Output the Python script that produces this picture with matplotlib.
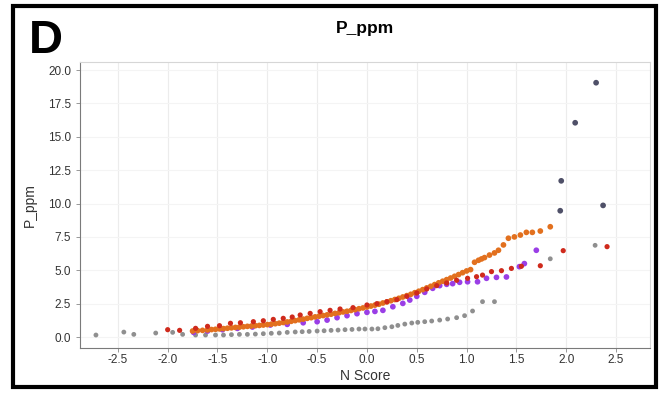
import matplotlib.pyplot as plt
from matplotlib.patches import Rectangle

plt.rcParams["font.family"] = ["Liberation Sans", "DejaVu Sans"]

# Normal probability plot data (N score, P_ppm)
gray_x = [-2.72, -2.44, -2.34, -2.12, -1.95, -1.85, -1.72, -1.62, -1.52, -1.44, -1.36,
          -1.28, -1.2, -1.12, -1.04, -0.96, -0.88, -0.8, -0.72, -0.65, -0.58, -0.5,
          -0.43, -0.36, -0.29, -0.22, -0.15, -0.08, -0.02, 0.05, 0.11, 0.18, 0.25,
          0.31, 0.38, 0.45, 0.51, 0.58, 0.65, 0.73, 0.81, 0.9, 0.98, 1.06, 1.16,
          1.28, 1.84, 2.29]
gray_y = [0.15, 0.37, 0.2, 0.3, 0.35, 0.2, 0.15, 0.15, 0.15, 0.15, 0.18,
          0.2, 0.2, 0.22, 0.25, 0.28, 0.3, 0.35, 0.38, 0.4, 0.42, 0.45,
          0.47, 0.5, 0.52, 0.55, 0.57, 0.6, 0.6, 0.6, 0.62, 0.7, 0.77,
          0.87, 0.97, 1.05, 1.1, 1.15, 1.2, 1.27, 1.35, 1.45, 1.6, 1.95, 2.65,
          2.65, 5.86, 6.87]

purple_x = [-1.74, -1.6, -1.45, -1.3, -1.15, -0.97, -0.8, -0.64, -0.5, -0.4, -0.3,
            -0.2, -0.1, 0.0, 0.08, 0.16, 0.26, 0.36, 0.43, 0.5, 0.58, 0.66, 0.73,
            0.8, 0.86, 0.93, 1.01, 1.11, 1.2, 1.3, 1.4, 1.53, 1.58, 1.7]
purple_y = [0.35, 0.45, 0.55, 0.65, 0.75, 0.9, 0.95, 1.07, 1.15, 1.27, 1.45,
            1.6, 1.75, 1.85, 1.92, 2.0, 2.27, 2.52, 2.77, 3.05, 3.35, 3.65, 3.85,
            3.95, 4.0, 4.1, 4.14, 4.14, 4.4, 4.47, 4.5, 5.27, 5.5, 6.5]

orange_x = [-1.75, -1.7, -1.65, -1.6, -1.56, -1.52, -1.48, -1.44, -1.4, -1.36,
            -1.32, -1.28, -1.24, -1.2, -1.16, -1.12, -1.08, -1.04, -1.0, -0.96,
            -0.92, -0.88, -0.84, -0.8, -0.76, -0.72, -0.68, -0.64, -0.6, -0.56,
            -0.52, -0.48, -0.44, -0.4, -0.36, -0.32, -0.28, -0.24, -0.2, -0.16,
            -0.12, -0.08, -0.04, 0.0, 0.04, 0.08, 0.12, 0.16, 0.2, 0.24,
            0.28, 0.32, 0.36, 0.4, 0.44, 0.48, 0.52, 0.56, 0.6, 0.64,
            0.68, 0.72, 0.76, 0.8, 0.84, 0.88, 0.92, 0.96, 1.0, 1.04,
            1.08, 1.12, 1.15, 1.18, 1.23, 1.28, 1.32, 1.37, 1.42, 1.48,
            1.54, 1.6, 1.66, 1.74, 1.84]
orange_y = [0.45, 0.48, 0.5, 0.53, 0.56, 0.58, 0.61, 0.63, 0.66, 0.69,
            0.72, 0.74, 0.77, 0.8, 0.82, 0.85, 0.87, 0.9, 0.93, 0.96,
            1.0, 1.04, 1.09, 1.13, 1.18, 1.23, 1.29, 1.34, 1.4, 1.45,
            1.51, 1.56, 1.61, 1.66, 1.71, 1.77, 1.82, 1.88, 1.93, 1.99,
            2.05, 2.12, 2.18, 2.25, 2.32, 2.39, 2.46, 2.55, 2.63, 2.72,
            2.81, 2.9, 3.0, 3.1, 3.2, 3.32, 3.43, 3.55, 3.68, 3.8,
            3.93, 4.06, 4.18, 4.3, 4.42, 4.55, 4.68, 4.82, 4.95, 5.05,
            5.6, 5.75, 5.85, 5.95, 6.14, 6.3, 6.5, 6.9, 7.4, 7.5,
            7.64, 7.84, 7.84, 7.94, 8.26]

red_x = [-2.0, -1.88, -1.72, -1.6, -1.48, -1.37, -1.27, -1.14, -1.04, -0.94, -0.84,
         -0.75, -0.67, -0.57, -0.47, -0.37, -0.27, -0.14, 0.0, 0.1, 0.2, 0.3,
         0.4, 0.5, 0.6, 0.7, 0.8, 0.9, 1.01, 1.1, 1.16, 1.25, 1.35, 1.45, 1.55,
         1.74, 1.97, 2.41]
red_y = [0.55, 0.5, 0.65, 0.8, 0.85, 1.03, 1.07, 1.15, 1.22, 1.32, 1.4,
         1.5, 1.65, 1.77, 1.9, 2.0, 2.1, 2.2, 2.4, 2.5, 2.65, 2.8,
         3.05, 3.3, 3.6, 3.85, 4.05, 4.25, 4.4, 4.52, 4.64, 4.9, 4.97, 5.14, 5.3,
         5.34, 6.47, 6.77]

dark_x = [1.94, 1.95, 2.09, 2.3, 2.37, 2.69]
dark_y = [9.46, 11.7, 16.05, 19.05, 9.86, 21.0]

x_ticks = [-2.5, -2.0, -1.5, -1.0, -0.5, 0.0, 0.5, 1.0, 1.5, 2.0, 2.5]
y_ticks = [0.0, 2.5, 5.0, 7.5, 10.0, 12.5, 15.0, 17.5, 20.0]

fig = plt.figure(figsize=(6.65, 3.94), dpi=100)
ax = fig.add_axes([0.1203, 0.1168, 0.857, 0.7258])

# grid
for xv in x_ticks:
    ax.axvline(xv, color="#ececec", linewidth=0.8, zorder=0)
for yv in y_ticks:
    ax.axhline(yv, color="#f4f4f4", linewidth=0.8, zorder=0)

ms = 17
ax.scatter(gray_x, gray_y, s=ms - 5, color="#8f8f8f", edgecolors="none", zorder=2)
ax.scatter(purple_x, purple_y, s=ms, color="#9a3ee6", edgecolors="none", zorder=3)
ax.scatter(orange_x, orange_y, s=ms, color="#e2701e", edgecolors="none", zorder=4)
ax.scatter(red_x, red_y, s=ms - 3, color="#cf2a1c", edgecolors="none", zorder=5)
ax.scatter(dark_x, dark_y, s=ms, color="#4f5068", edgecolors="none", zorder=5)

ax.set_xlim(-2.88, 2.84)
ax.set_ylim(-0.82, 20.6)
ax.set_xticks(x_ticks)
ax.set_yticks(y_ticks)
ax.set_xticklabels([f"{v:.1f}" for v in x_ticks])
ax.set_yticklabels([f"{v:.1f}" for v in y_ticks])
ax.tick_params(labelsize=8.5, labelcolor="#333333", color="#888888", length=3, width=0.6)
ax.tick_params(axis="x", pad=1.5)

for side in ["top", "right"]:
    ax.spines[side].set_color("#d6d6d6")
for side in ["left", "bottom"]:
    ax.spines[side].set_color("#7a7a7a")
for sp in ax.spines.values():
    sp.set_linewidth(0.8)

ax.set_xlabel("N Score", fontsize=10, color="#333333", labelpad=2)
ax.set_ylabel("P_ppm", fontsize=10, color="#333333", labelpad=8)

fig.text(0.549, 0.928, "P_ppm", fontsize=12.5, fontweight="bold", ha="center", va="center")
fig.text(0.044, 0.895, "D", fontsize=34, fontweight="bold", ha="left", va="center")

# black frame around the panel
fig.patches.append(Rectangle((0.02, 0.018), 0.966, 0.967, transform=fig.transFigure,
                             fill=False, edgecolor="black", linewidth=3))

plt.savefig("out.png", dpi=100)
